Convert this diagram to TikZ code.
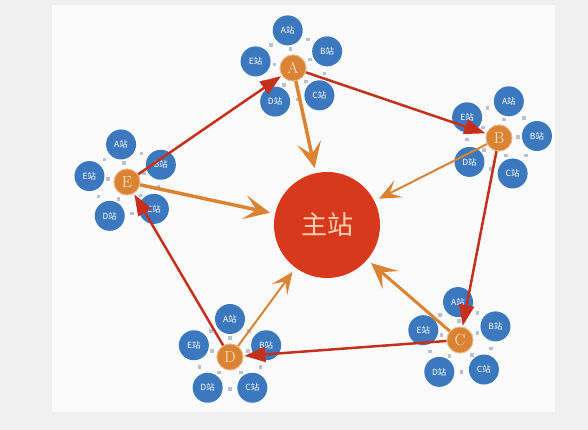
\documentclass[tikz,border=0pt]{standalone}
\usepackage{fontspec}
\newfontfamily\cjk{Noto Sans CJK SC}
\usepackage{tikz}
\usetikzlibrary{arrows.meta,calc}
\definecolor{linkred}{HTML}{C4301C}
\definecolor{upor}{HTML}{DA8433}
\definecolor{stblue}{HTML}{3B78BE}
\definecolor{hubred}{HTML}{D8381B}
\definecolor{hubtext}{HTML}{FBD2B4}
\definecolor{dotgray}{HTML}{B8C2CC}
\tikzset{
    master/.style={circle, fill=hubred, minimum size=106pt, inner sep=0pt, text=hubtext, font=\cjk\fontsize{26}{26}\selectfont},
    relay/.style={circle, fill=upor, draw=upor!55!white, line width=0.8pt, minimum size=26pt, inner sep=0pt, text=orange!15!white, font=\fontsize{16}{16}\selectfont},
    sub/.style={circle, fill=stblue, minimum size=30pt, inner sep=0pt, text=white, font=\cjk\fontsize{8.5}{8.5}\selectfont},
    gap/.style={fill=dotgray, minimum size=3.5pt, inner sep=0pt},
    ring/.style={-{Triangle[length=21pt, width=15pt]}, line width=2.5pt, linkred, shorten >=1pt},
    report/.style={-{Stealth[length=26pt, width=24pt, inset=12pt]}, upor, shorten >=5pt}
}

% five sub stations round one relay node
\newcommand{\substations}[2]{%
  \foreach \s [count=\i from 0] in {A,B,C,D,E}{
    \node[gap] (#1-in\i) at ($(#1)+({#2-72*\i}:19pt)$) {};
    \node[gap] (#1-out\i) at ($(#1)+({#2-36-72*\i}:32pt)$) {};
    \node[sub] (#1-\s) at ($(#1)+({#2-72*\i}:38pt)$) {{\s}站};
  }
}

\begin{document}
\begin{tikzpicture}[x=1pt, y=1pt]
\useasboundingbox (0,0) rectangle (588,430);
\fill[gray!12] (0,0) rectangle (588,430);
\fill[gray!3] (52,18) rectangle (555,425);

\node[master] (main) at (327,205) {主站};
\node[relay] (A) at (293,362) {A};
\node[relay] (B) at (499,292) {B};
\node[relay] (C) at (460,90) {C};
\node[relay] (D) at (230,73) {D};
\node[relay] (E) at (127,248) {E};

\substations{A}{98}
\substations{B}{75}
\substations{C}{93}
\substations{D}{90}
\substations{E}{99}

% uplinks to the master
\draw[report, line width=3.5pt] (A) -- (main);
\draw[report, line width=3.5pt] (E) -- (main);
\draw[report, line width=2pt, -{Stealth[length=22pt, width=19pt, inset=10pt]}] (B) -- (main);
\draw[report, line width=3pt] (C) -- (main);
\draw[report, line width=2pt, -{Stealth[length=22pt, width=19pt, inset=10pt]}] (D) -- (main);

% relay ring
\draw[ring] (E) -- (A);
\draw[ring] (A) -- (B);
\draw[ring] (B) -- (C);
\draw[ring] (C) -- (D);
\draw[ring] (D) -- (E);

\node[relay] at (A) {A};
\node[relay] at (B) {B};
\node[relay] at (C) {C};
\node[relay] at (D) {D};
\node[relay] at (E) {E};
\end{tikzpicture}
\end{document}
